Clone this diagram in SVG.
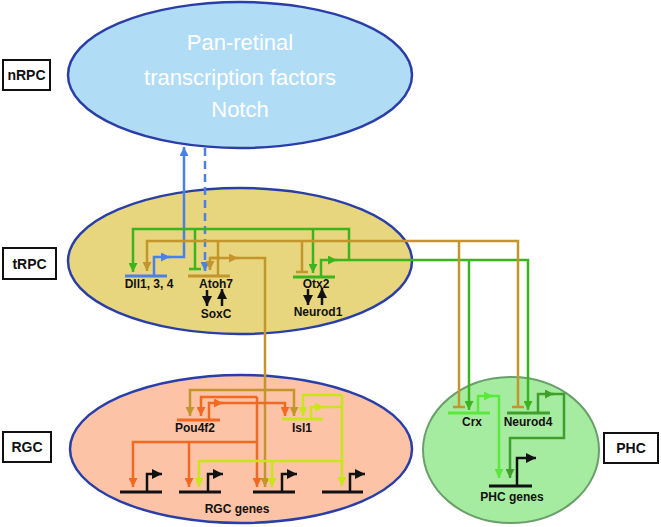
<svg xmlns="http://www.w3.org/2000/svg" width="661" height="527" viewBox="0 0 661 527">
<style>
.lbl{font-family:"Liberation Sans",Arial,sans-serif;font-weight:bold;font-size:12px;fill:#111;text-anchor:middle}
.box{fill:#fff;stroke:#111;stroke-width:2}
.boxt{font-family:"Liberation Sans",Arial,sans-serif;font-weight:bold;font-size:14px;fill:#111;text-anchor:middle}
.big{font-family:"Liberation Sans",Arial,sans-serif;font-size:22px;fill:#fff;text-anchor:middle}
.ln{fill:none;stroke-width:2.5}
.bl{stroke:#4b80e6}.gr{stroke:#3cb41e}.go{stroke:#c4952a}.or{stroke:#f26a22}.yg{stroke:#c9e619}.bg{stroke:#5ae83c}.dg{stroke:#3f9f2a}.bk{stroke:#111}
.bar{stroke-width:3}
</style>
<defs>
<marker id="aBl" markerUnits="userSpaceOnUse" markerWidth="9" markerHeight="9" refX="9" refY="4.5" orient="auto"><path d="M0,0L9,4.5L0,9z" fill="#4b80e6"/></marker>
<marker id="aGr" markerUnits="userSpaceOnUse" markerWidth="9" markerHeight="9" refX="9" refY="4.5" orient="auto"><path d="M0,0L9,4.5L0,9z" fill="#3cb41e"/></marker>
<marker id="aGo" markerUnits="userSpaceOnUse" markerWidth="9" markerHeight="9" refX="9" refY="4.5" orient="auto"><path d="M0,0L9,4.5L0,9z" fill="#c4952a"/></marker>
<marker id="aOr" markerUnits="userSpaceOnUse" markerWidth="9" markerHeight="9" refX="9" refY="4.5" orient="auto"><path d="M0,0L9,4.5L0,9z" fill="#f26a22"/></marker>
<marker id="aYg" markerUnits="userSpaceOnUse" markerWidth="9" markerHeight="9" refX="9" refY="4.5" orient="auto"><path d="M0,0L9,4.5L0,9z" fill="#c9e619"/></marker>
<marker id="aBg" markerUnits="userSpaceOnUse" markerWidth="9" markerHeight="9" refX="9" refY="4.5" orient="auto"><path d="M0,0L9,4.5L0,9z" fill="#5ae83c"/></marker>
<marker id="aDg" markerUnits="userSpaceOnUse" markerWidth="9" markerHeight="9" refX="9" refY="4.5" orient="auto"><path d="M0,0L9,4.5L0,9z" fill="#3f9f2a"/></marker>
<marker id="aBk" markerUnits="userSpaceOnUse" markerWidth="10" markerHeight="10" refX="10" refY="5" orient="auto"><path d="M0,0L10,5L0,10z" fill="#111"/></marker>
</defs>
<rect width="661" height="527" fill="#fff"/>

<g id="nRPC">
<ellipse cx="240" cy="75" rx="172" ry="73" fill="#b1dcf5" stroke="#2a3ea8" stroke-width="2.5"/>
<text class="big" x="240" y="50">Pan-retinal</text>
<text class="big" x="240" y="85">transcription factors</text>
<text class="big" x="240" y="117">Notch</text>
</g>
<g id="tRPC">
<ellipse cx="240" cy="261" rx="172" ry="73" fill="#e7d67e" stroke="#2a3ea8" stroke-width="2.5"/>
</g>
<g id="RGC">
<ellipse cx="241" cy="449" rx="171" ry="74" fill="#fcc3a6" stroke="#2a3ea8" stroke-width="2.5"/>
</g>
<g id="PHC">
<ellipse cx="511" cy="450" rx="88" ry="73" fill="#a6eca0" stroke="#6a9f6a" stroke-width="2"/>
</g>

<g id="label-nRPC"><rect class="box" x="3" y="60" width="47" height="30"/><text class="boxt" x="26.5" y="80">nRPC</text></g>
<g id="label-tRPC"><rect class="box" x="3" y="248" width="53" height="31"/><text class="boxt" x="29.5" y="269">tRPC</text></g>
<g id="label-RGC"><rect class="box" x="3" y="432" width="48" height="30"/><text class="boxt" x="27" y="452">RGC</text></g>
<g id="label-PHC"><rect class="box" x="604" y="433" width="54" height="30"/><text class="boxt" x="631" y="453">PHC</text></g>

<g id="connectors">
<path class="ln bl" d="M154,276V257H170" marker-end="url(#aBl)"/>
<path class="ln bl" d="M168,257H184V147" marker-end="url(#aBl)"/>
<path class="ln bl" d="M205,148V271" stroke-dasharray="8,5" marker-end="url(#aBl)"/>
<path class="ln gr" d="M321,277V260H337" marker-end="url(#aGr)"/>
<path class="ln gr" d="M335,260H528V410" marker-end="url(#aGr)"/>
<path class="ln gr" d="M469,260V410" marker-end="url(#aGr)"/>
<path class="ln gr" d="M349,260V229H133V272" marker-end="url(#aGr)"/>
<path class="ln gr" d="M313,229V273" marker-end="url(#aGr)"/>
<path class="ln gr" d="M195,229V269M189,269H201"/>
<path class="ln go" d="M518,407V241H147V271" marker-end="url(#aGo)"/>
<path class="ln go" d="M512,407H524"/>
<path class="ln go" d="M459,241V407M453,407H465"/>
<path class="ln go" d="M302,241V272M296,272H308"/>
<path class="ln go" d="M218,241V276"/>
<path class="ln go" d="M220,258H210V270" marker-end="url(#aGo)"/>
<path class="ln go" d="M210,258H238" marker-end="url(#aGo)"/>
<path class="ln go" d="M236,258H265V487" marker-end="url(#aGo)"/>
<path class="ln go" d="M265,390H190V416" marker-end="url(#aGo)"/>
<path class="ln go" d="M265,390H294V416" marker-end="url(#aGo)"/>
<path class="ln or" d="M257,397H201V416" marker-end="url(#aOr)"/>
<path class="ln or" d="M257,397V487" marker-end="url(#aOr)"/>
<path class="ln or" d="M257,442H133V487" marker-end="url(#aOr)"/>
<path class="ln or" d="M189,442V487" marker-end="url(#aOr)"/>
<path class="ln or" d="M209,420V403H223" marker-end="url(#aOr)"/>
<path class="ln or" d="M221,403H285V416" marker-end="url(#aOr)"/>
<path class="ln yg" d="M342,395H303V416" marker-end="url(#aYg)"/>
<path class="ln yg" d="M342,395V486" marker-end="url(#aYg)"/>
<path class="ln yg" d="M311,419V407H324" marker-end="url(#aYg)"/>
<path class="ln yg" d="M322,407H342"/>
<path class="ln yg" d="M342,461H199V487" marker-end="url(#aYg)"/>
<path class="ln yg" d="M272,461V487" marker-end="url(#aYg)"/>
<path class="ln bg" d="M478,413V396H493" marker-end="url(#aBg)"/>
<path class="ln bg" d="M491,396H499V478" marker-end="url(#aBg)"/>
<path class="ln dg" d="M538,413V394H554" marker-end="url(#aDg)"/>
<path class="ln dg" d="M552,394H564V438H510V478" marker-end="url(#aDg)"/>
<path class="ln bk" d="M207,290V306" stroke-width="2" marker-end="url(#aBk)"/>
<path class="ln bk" d="M222,306V289" stroke-width="2" marker-end="url(#aBk)"/>
<path class="ln bk" d="M308,289V305" stroke-width="2" marker-end="url(#aBk)"/>
<path class="ln bk" d="M322,305V288" stroke-width="2" marker-end="url(#aBk)"/>
</g>

<g id="Dll">
<path class="ln bl bar" d="M125,276H167"/>
<text class="lbl" x="149" y="288">Dll1, 3, 4</text>
</g>
<g id="Atoh7">
<path class="ln go bar" d="M188,276H230"/>
<text class="lbl" x="216" y="288">Atoh7</text>
</g>
<g id="SoxC"><text class="lbl" x="216" y="318">SoxC</text></g>
<g id="Otx2">
<path class="ln gr bar" d="M293,277H335"/>
<text class="lbl" x="316" y="288">Otx2</text>
</g>
<g id="Neurod1"><text class="lbl" x="318" y="316">Neurod1</text></g>
<g id="Pou4f2">
<path class="ln or bar" d="M177,420H220"/>
<text class="lbl" x="195" y="432">Pou4f2</text>
</g>
<g id="Isl1">
<path class="ln yg bar" d="M282,419H323"/>
<text class="lbl" x="302" y="432">Isl1</text>
</g>
<g id="RGC-genes">
<path class="ln bk bar" d="M120,492H162M179,492H221M253,492H295M322,492H363"/>
<path class="ln bk" d="M147,492V474H162" marker-end="url(#aBk)"/>
<path class="ln bk" d="M208,492V474H223" marker-end="url(#aBk)"/>
<path class="ln bk" d="M282,492V474H297" marker-end="url(#aBk)"/>
<path class="ln bk" d="M350,492V474H365" marker-end="url(#aBk)"/>
<text class="lbl" x="237" y="513">RGC genes</text>
</g>
<g id="Crx">
<path class="ln bg bar" d="M448,413H490"/>
<text class="lbl" x="472" y="426">Crx</text>
</g>
<g id="Neurod4">
<path class="ln dg bar" d="M507,413H550"/>
<text class="lbl" x="528" y="426">Neurod4</text>
</g>
<g id="PHC-genes">
<path class="ln bk bar" d="M489,486H532"/>
<path class="ln bk" d="M517,486V458H536" marker-end="url(#aBk)"/>
<text class="lbl" x="512" y="501">PHC genes</text>
</g>
</svg>
